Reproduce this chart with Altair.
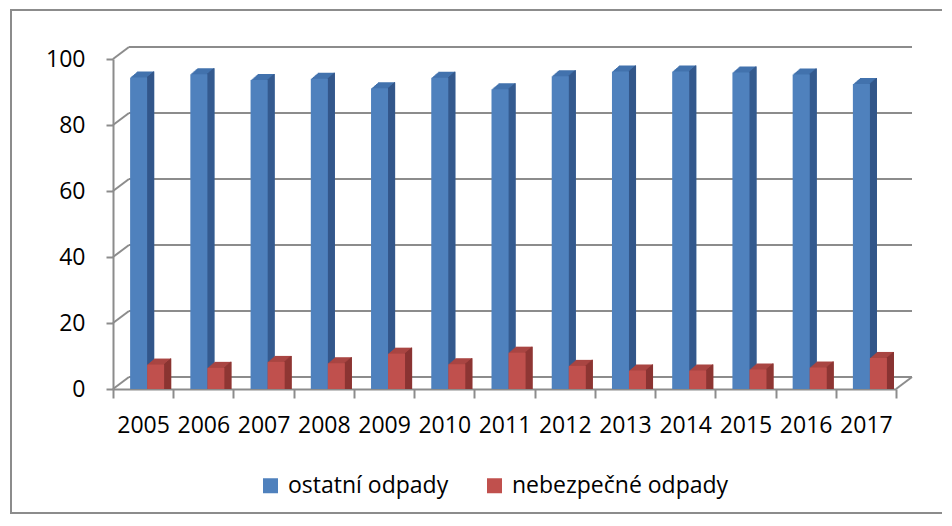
import altair as alt
import pandas as pd

# ---- data ----
years = ["2005", "2006", "2007", "2008", "2009", "2010", "2011",
         "2012", "2013", "2014", "2015", "2016", "2017"]
ostatni = [93.5, 94.5, 92.7, 93.1, 90.2, 93.4, 89.9, 93.9, 95.3, 95.3, 95.0, 94.4, 91.5]
nebezpecne = [6.5, 5.5, 7.3, 6.9, 9.8, 6.6, 10.1, 6.1, 4.7, 4.7, 5.0, 5.6, 8.5]
series = ["ostatní odpady", "nebezpečné odpady"]
y_ticks = [0, 20, 40, 60, 80, 100]

# ---- styling ----
front_colors = ["#4F81BD", "#C0504D"]
top_colors = ["#4272AD", "#A94542"]
side_colors = ["#33578A", "#8A3432"]
GRAY = "#8c8c8c"
FONT = "Open Sans"
W, H = 783, 330
DX, DY = 16, 12
BW = 17          # bar front width (px)
DEPTH = 7        # bar depth steps (px)
SLOPE = 6 / 7    # vertical rise per depth px

df = pd.DataFrame({
    "rok": years * 2,
    "rada": [series[0]] * len(years) + [series[1]] * len(years),
    "hodnota": ostatni + nebezpecne,
})
grid = pd.DataFrame({"v": y_ticks})
floor = pd.DataFrame({"v": [0]})
frame = pd.DataFrame({"k": [1]})

yscale = alt.Scale(domain=[0, 100], nice=False, zero=True)
xaxis = alt.Axis(title="", labelAngle=0, labelFont=FONT, labelFontSize=23,
                 labelColor="black", domainColor=GRAY, domainWidth=2,
                 tickColor=GRAY, tickWidth=2, tickSize=9, tickBand="extent",
                 labelPadding=16, grid=False)
yaxis = alt.Axis(title="", values=y_ticks, labelFont=FONT, labelFontSize=23,
                 labelColor="black", domainColor=GRAY, domainWidth=2,
                 tickColor=GRAY, tickWidth=2, tickSize=7, labelPadding=21,
                 grid=False)
xenc = alt.X("rok:N", scale=alt.Scale(paddingInner=0, paddingOuter=0), axis=xaxis, sort=years)

border = alt.Chart(frame).mark_rect(fillOpacity=0, stroke=GRAY, strokeWidth=2).encode(
    x=alt.value(-102), x2=alt.value(900), y=alt.value(-49), y2=alt.value(454))

back = alt.Chart(grid).mark_rule(color=GRAY, strokeWidth=2, yOffset=-DY).encode(
    y=alt.Y("v:Q", scale=yscale, axis=yaxis), x=alt.value(DX), x2=alt.value(W + DX))

diag = alt.Chart(grid).mark_rule(color=GRAY, strokeWidth=2, y2Offset=-DY).encode(
    y=alt.Y("v:Q", scale=yscale, axis=yaxis), y2=alt.Y2("v:Q"),
    x=alt.value(0), x2=alt.value(DX))

floor_r = alt.Chart(floor).mark_rule(color=GRAY, strokeWidth=2, y2Offset=-DY).encode(
    y=alt.Y("v:Q", scale=yscale, axis=yaxis), y2=alt.Y2("v:Q"),
    x=alt.value(W), x2=alt.value(W + DX))

layers = [border, back, diag, floor_r]
for i, s in enumerate(series):
    c = -4.5 + BW * i
    base = alt.Chart(df).transform_filter(alt.datum.rada == s)
    yenc = alt.Y("hodnota:Q", scale=yscale, axis=yaxis, stack=False)
    # top face: union of shifted rectangles builds the slanted parallelogram
    for k in range(1, DEPTH + 1):
        layers.append(base.mark_bar(width=BW, xOffset=c + k, yOffset=-3 - k * SLOPE,
                                    color=top_colors[i]).encode(x=xenc, y=yenc))
    # side face: 1px columns stepping back and up
    for k in range(1, DEPTH + 1):
        layers.append(base.mark_bar(width=1.2, xOffset=c + BW / 2 + k - 0.5,
                                    yOffset=-3 - k * SLOPE,
                                    color=side_colors[i]).encode(x=xenc, y=yenc))
    front = base.mark_bar(width=BW, xOffset=c, yOffset=-3).encode(
        x=xenc, y=yenc,
        color=alt.Color("rada:N",
                        scale=alt.Scale(domain=series, range=front_colors),
                        legend=alt.Legend(orient="none", legendX=146, legendY=415,
                                          direction="horizontal", title="",
                                          symbolType="square", symbolSize=225,
                                          symbolStrokeWidth=0, labelFont=FONT,
                                          labelFontSize=23, labelColor="black",
                                          labelOffset=6, columnPadding=34,
                                          labelLimit=400, padding=0)))
    layers.append(front)

chart = alt.layer(*layers).properties(
    width=W, height=H,
    autosize=alt.AutoSizeParams(type="none"),
    padding={"left": 105, "top": 51, "right": 46, "bottom": 126},
    background="white",
).configure_view(strokeWidth=0)

chart.save("out.html", embed_options={"renderer": "svg", "actions": False})
